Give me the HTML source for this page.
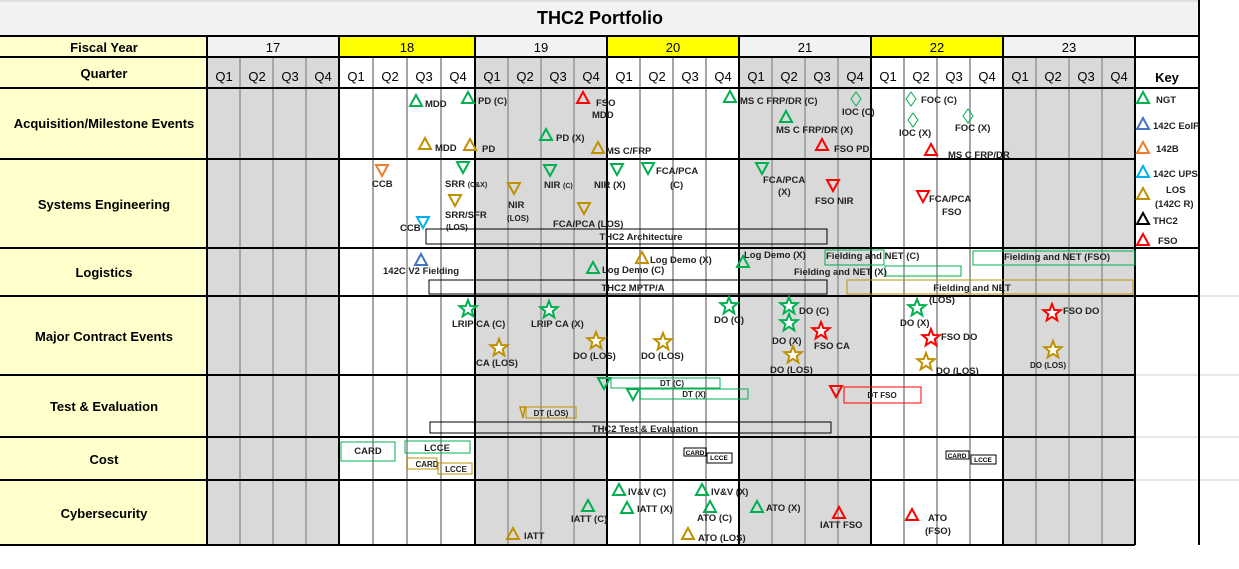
<!DOCTYPE html>
<html><head><meta charset="utf-8"><style>
html,body{margin:0;padding:0;background:#fff;width:1239px;height:569px;overflow:hidden}
svg{display:block;font-family:"Liberation Sans Narrow","Liberation Sans",sans-serif}
.t{font-size:9.5px;font-weight:bold;fill:#222}
.s{font-size:8px;font-weight:bold;fill:#222}
.l{font-size:13px;font-weight:bold;fill:#000}
.q{font-size:13px;fill:#000}
</style></head><body>
<svg width="1239" height="569" viewBox="0 0 1239 569">
<defs>
<path id="tu" d="M0,-6 L6,5 L-6,5Z" fill="none" stroke-width="2"/>
<path id="td" d="M0,6 L6,-5 L-6,-5Z" fill="none" stroke-width="2"/>
<path id="dm" d="M0,-7 L5,0 L0,7 L-5,0Z" fill="none" stroke-width="1"/>
<path id="st" d="M0,-9 L2.3,-3 L8.6,-2.8 L3.7,1.2 L5.3,7.3 L0,3.8 L-5.3,7.3 L-3.7,1.2 L-8.6,-2.8 L-2.3,-3Z" fill="#fff" stroke-width="2"/>
</defs>
<rect x="0" y="0" width="1199" height="36" fill="#f2f2f2"/>
<line x1="0" y1="1" x2="1199" y2="1" stroke="#ccc"/>
<text x="600" y="24" text-anchor="middle" font-size="18" font-weight="bold" font-family="Liberation Sans">THC2 Portfolio</text>
<rect x="0" y="36" width="207" height="509" fill="#ffffcc"/>
<rect x="207" y="36" width="928" height="21" fill="#f2f2f2"/>
<rect x="339" y="36" width="136" height="21" fill="#ffff00"/>
<rect x="607" y="36" width="132" height="21" fill="#ffff00"/>
<rect x="871" y="36" width="132" height="21" fill="#ffff00"/>
<rect x="1135" y="36" width="64" height="21" fill="#fff"/>
<rect x="207" y="57" width="132" height="488" fill="#d9d9d9"/>
<rect x="475" y="57" width="132" height="488" fill="#d9d9d9"/>
<rect x="739" y="57" width="132" height="488" fill="#d9d9d9"/>
<rect x="1003" y="57" width="132" height="488" fill="#d9d9d9"/>
<g stroke="#a6a6a6" stroke-width="2">
<line x1="240" y1="57" x2="240" y2="545"/><line x1="273" y1="57" x2="273" y2="545"/><line x1="306" y1="57" x2="306" y2="545"/>
<line x1="373" y1="57" x2="373" y2="545"/><line x1="407" y1="57" x2="407" y2="545"/><line x1="441" y1="57" x2="441" y2="545"/>
<line x1="508" y1="57" x2="508" y2="545"/><line x1="541" y1="57" x2="541" y2="545"/><line x1="574" y1="57" x2="574" y2="545"/>
<line x1="640" y1="57" x2="640" y2="545"/><line x1="673" y1="57" x2="673" y2="545"/><line x1="706" y1="57" x2="706" y2="545"/>
<line x1="772" y1="57" x2="772" y2="545"/><line x1="805" y1="57" x2="805" y2="545"/><line x1="838" y1="57" x2="838" y2="545"/>
<line x1="904" y1="57" x2="904" y2="545"/><line x1="937" y1="57" x2="937" y2="545"/><line x1="970" y1="57" x2="970" y2="545"/>
<line x1="1036" y1="57" x2="1036" y2="545"/><line x1="1069" y1="57" x2="1069" y2="545"/><line x1="1102" y1="57" x2="1102" y2="545"/>
</g>
<g stroke="#d0d0d0" stroke-width="1">
<line x1="1135" y1="375" x2="1239" y2="375"/><line x1="1135" y1="437" x2="1239" y2="437"/><line x1="1135" y1="480" x2="1239" y2="480"/>
<line x1="1199" y1="296" x2="1239" y2="296"/>
</g>
<g stroke="#000" stroke-width="2">
<line x1="0" y1="36" x2="1199" y2="36"/><line x1="0" y1="57" x2="1199" y2="57"/><line x1="0" y1="88" x2="1199" y2="88"/>
<line x1="0" y1="159" x2="1135" y2="159"/><line x1="0" y1="248" x2="1199" y2="248"/><line x1="0" y1="296" x2="1199" y2="296"/>
<line x1="0" y1="375" x2="1135" y2="375"/><line x1="0" y1="437" x2="1135" y2="437"/><line x1="0" y1="480" x2="1135" y2="480"/>
<line x1="0" y1="545" x2="1135" y2="545"/>
<line x1="207" y1="36" x2="207" y2="545"/><line x1="339" y1="36" x2="339" y2="545"/><line x1="475" y1="36" x2="475" y2="545"/>
<line x1="607" y1="36" x2="607" y2="545"/><line x1="739" y1="36" x2="739" y2="545"/><line x1="871" y1="36" x2="871" y2="545"/>
<line x1="1003" y1="36" x2="1003" y2="545"/><line x1="1135" y1="36" x2="1135" y2="545"/><line x1="1199" y1="0" x2="1199" y2="545"/>
</g>
<text class="l" x="104" y="52" text-anchor="middle" font-size="12">Fiscal Year</text>
<text class="l" x="104" y="78" text-anchor="middle" font-size="12">Quarter</text>
<g class="q" text-anchor="middle">
<text x="273" y="52">17</text><text x="407" y="52">18</text><text x="541" y="52">19</text><text x="673" y="52">20</text><text x="805" y="52">21</text><text x="937" y="52">22</text><text x="1069" y="52">23</text>
</g>
<g class="q" text-anchor="middle">
<text x="224" y="81">Q1</text><text x="257" y="81">Q2</text><text x="290" y="81">Q3</text><text x="323" y="81">Q4</text>
<text x="356" y="81">Q1</text><text x="390" y="81">Q2</text><text x="424" y="81">Q3</text><text x="458" y="81">Q4</text>
<text x="492" y="81">Q1</text><text x="525" y="81">Q2</text><text x="558" y="81">Q3</text><text x="591" y="81">Q4</text>
<text x="624" y="81">Q1</text><text x="657" y="81">Q2</text><text x="690" y="81">Q3</text><text x="723" y="81">Q4</text>
<text x="756" y="81">Q1</text><text x="789" y="81">Q2</text><text x="822" y="81">Q3</text><text x="855" y="81">Q4</text>
<text x="888" y="81">Q1</text><text x="921" y="81">Q2</text><text x="954" y="81">Q3</text><text x="987" y="81">Q4</text>
<text x="1020" y="81">Q1</text><text x="1053" y="81">Q2</text><text x="1086" y="81">Q3</text><text x="1119" y="81">Q4</text>
</g>
<text class="l" x="1167" y="82" text-anchor="middle" font-size="13">Key</text>
<g class="l" text-anchor="middle">
<text x="104" y="128">Acquisition/Milestone Events</text>
<text x="104" y="209">Systems Engineering</text>
<text x="104" y="277">Logistics</text>
<text x="104" y="341">Major Contract Events</text>
<text x="104" y="411">Test &amp; Evaluation</text>
<text x="104" y="464">Cost</text>
<text x="104" y="518">Cybersecurity</text>
</g>

<use href="#tu" x="416" y="101" stroke="#00b050"/><text class="t" x="425" y="107">MDD</text>
<use href="#tu" x="468" y="98" stroke="#00b050"/><text class="t" x="478" y="104">PD (C)</text>
<use href="#tu" x="583" y="98" stroke="#f00"/><text class="t" x="596" y="106">FSO</text><text class="t" x="592" y="118">MDD</text>
<use href="#tu" x="730" y="97" stroke="#00b050"/><text class="t" x="740" y="104">MS C FRP/DR (C)</text>
<use href="#dm" x="856" y="99" stroke="#00b050"/><text class="t" x="842" y="115">IOC  (C)</text>
<use href="#dm" x="911" y="99" stroke="#00b050"/><text class="t" x="921" y="103">FOC (C)</text>
<use href="#dm" x="913" y="120" stroke="#00b050"/><text class="t" x="899" y="136">IOC  (X)</text>
<use href="#dm" x="968" y="116" stroke="#00b050"/><text class="t" x="955" y="131">FOC (X)</text>
<use href="#tu" x="786" y="117" stroke="#00b050"/><text class="t" x="776" y="133">MS C FRP/DR (X)</text>
<use href="#tu" x="425" y="144" stroke="#bf9000"/><text class="t" x="435" y="151">MDD</text>
<use href="#tu" x="470" y="145" stroke="#bf9000"/><text class="t" x="482" y="152">PD</text>
<use href="#tu" x="546" y="135" stroke="#00b050"/><text class="t" x="556" y="141">PD (X)</text>
<use href="#tu" x="598" y="148" stroke="#bf9000"/><text class="t" x="606" y="154">MS C/FRP</text>
<use href="#tu" x="822" y="145" stroke="#f00"/><text class="t" x="834" y="152">FSO PD</text>
<use href="#tu" x="931" y="150" stroke="#f00"/><text class="t" x="948" y="158">MS C FRP/DR</text>

<use href="#td" x="382" y="170" stroke="#ed7d31"/><text class="t" x="372" y="187">CCB</text>
<use href="#td" x="463" y="167" stroke="#00b050"/><text class="t" x="445" y="187">SRR <tspan font-size="7">(C&amp;X)</tspan></text>
<use href="#td" x="514" y="188" stroke="#bf9000"/><text class="t" x="508" y="208">NIR</text><text class="s" x="507" y="221">(LOS)</text>
<use href="#td" x="550" y="170" stroke="#00b050"/><text class="t" x="544" y="188">NIR <tspan font-size="7">(C)</tspan></text>
<use href="#td" x="617" y="169" stroke="#00b050"/><text class="t" x="594" y="188">NIR (X)</text>
<use href="#td" x="648" y="168" stroke="#00b050"/><text class="t" x="656" y="174">FCA/PCA</text><text class="t" x="670" y="188">(C)</text>
<use href="#td" x="455" y="200" stroke="#bf9000"/><text class="t" x="445" y="218">SRR/SFR</text><text class="s" x="446" y="230">(LOS)</text>
<use href="#td" x="584" y="208" stroke="#bf9000"/><text class="t" x="553" y="227">FCA/PCA  (LOS)</text>
<use href="#td" x="423" y="222" stroke="#00b0f0"/><text class="t" x="400" y="231">CCB</text>
<rect x="426" y="229" width="401" height="15" fill="none" stroke="#000"/><text class="t" x="641" y="240" text-anchor="middle">THC2 Architecture</text>
<use href="#td" x="762" y="168" stroke="#00b050"/><text class="t" x="763" y="183">FCA/PCA</text><text class="t" x="778" y="195">(X)</text>
<use href="#td" x="833" y="185" stroke="#f00"/><text class="t" x="815" y="204">FSO NIR</text>
<use href="#td" x="923" y="196" stroke="#f00"/><text class="t" x="929" y="202">FCA/PCA</text><text class="t" x="942" y="215">FSO</text>

<use href="#tu" x="1143" y="98" stroke="#00b050"/><text class="t" x="1156" y="103">NGT</text>
<use href="#tu" x="1143" y="124" stroke="#4472c4"/><text class="t" x="1153" y="129">142C EoIP</text>
<use href="#tu" x="1143" y="148" stroke="#ed7d31"/><text class="t" x="1156" y="152">142B</text>
<use href="#tu" x="1143" y="172" stroke="#00b0f0"/><text class="t" x="1153" y="177">142C UPS</text>
<use href="#tu" x="1143" y="194" stroke="#bf9000"/><text class="t" x="1166" y="193">LOS</text><text class="t" x="1155" y="207">(142C R)</text>
<use href="#tu" x="1143" y="219" stroke="#000"/><text class="t" x="1153" y="224">THC2</text>
<use href="#tu" x="1143" y="240" stroke="#f00"/><text class="t" x="1158" y="244">FSO</text>

<use href="#tu" x="421" y="260" stroke="#4472c4"/><text class="t" x="383" y="274">142C V2 Fielding</text>
<use href="#tu" x="593" y="268" stroke="#00b050"/><text class="t" x="602" y="273">Log Demo (C)</text>
<use href="#tu" x="642" y="258" stroke="#bf9000"/><text class="t" x="650" y="263">Log Demo (X)</text>
<use href="#tu" x="743" y="262" stroke="#00b050"/><text class="t" x="744" y="258">Log Demo (X)</text>
<rect x="825" y="250" width="59" height="15" fill="none" stroke="#00b050"/><text class="t" x="826" y="259">Fielding and NET (C)</text>
<rect x="885" y="266" width="76" height="10" fill="none" stroke="#00b050"/><text class="t" x="794" y="275">Fielding and NET (X)</text>
<rect x="973" y="251" width="162" height="14" fill="none" stroke="#00b050"/><text class="t" x="1057" y="260" text-anchor="middle">Fielding and NET (FSO)</text>
<rect x="429" y="280" width="398" height="14" fill="none" stroke="#000"/><text class="t" x="633" y="291" text-anchor="middle">THC2 MPTP/A</text>
<rect x="847" y="280" width="286" height="14" fill="none" stroke="#bf9000"/><text class="t" x="972" y="291" text-anchor="middle">Fielding and NET</text>

<use href="#st" x="468" y="309" stroke="#00b050"/><text class="t" x="452" y="327">LRIP CA (C)</text>
<use href="#st" x="549" y="310" stroke="#00b050"/><text class="t" x="531" y="327">LRIP CA (X)</text>
<use href="#st" x="729" y="306" stroke="#00b050"/><text class="t" x="714" y="323">DO (C)</text>
<use href="#st" x="499" y="348" stroke="#bf9000"/><text class="t" x="476" y="366">CA (LOS)</text>
<use href="#st" x="596" y="341" stroke="#bf9000"/><text class="t" x="573" y="359">DO (LOS)</text>
<use href="#st" x="663" y="342" stroke="#bf9000"/><text class="t" x="641" y="359">DO (LOS)</text>
<use href="#st" x="789" y="306" stroke="#00b050"/><text class="t" x="799" y="314">DO  (C)</text>
<use href="#st" x="789" y="323" stroke="#00b050"/><text class="t" x="772" y="344">DO  (X)</text>
<use href="#st" x="821" y="331" stroke="#f00"/><text class="t" x="814" y="349">FSO CA</text>
<use href="#st" x="793" y="355" stroke="#bf9000"/><text class="t" x="770" y="373">DO  (LOS)</text>
<use href="#st" x="917" y="308" stroke="#00b050"/><text class="t" x="929" y="303">(LOS)</text><text class="t" x="900" y="326">DO  (X)</text>
<use href="#st" x="931" y="338" stroke="#f00"/><text class="t" x="941" y="340">FSO DO</text>
<use href="#st" x="926" y="362" stroke="#bf9000"/><text class="t" x="936" y="374">DO  (LOS)</text>
<use href="#st" x="1052" y="313" stroke="#f00"/><text class="t" x="1063" y="314">FSO DO</text>
<use href="#st" x="1053" y="350" stroke="#bf9000"/><text class="s" x="1030" y="368">DO  (LOS)</text>

<use href="#td" x="604" y="383" stroke="#00b050"/><rect x="611" y="378" width="109" height="10" fill="none" stroke="#00b050"/><text class="s" x="672" y="386" text-anchor="middle">DT (C)</text>
<use href="#td" x="633" y="394" stroke="#00b050"/><rect x="640" y="389" width="108" height="10" fill="none" stroke="#00b050"/><text class="s" x="694" y="397" text-anchor="middle">DT (X)</text>
<path d="M520,407 L525,407 L523,418Z" fill="none" stroke="#bf9000" stroke-width="1.5"/><rect x="526" y="407" width="50" height="11" fill="none" stroke="#bf9000"/><text class="s" x="551" y="416" text-anchor="middle">DT (LOS)</text>
<rect x="430" y="422" width="401" height="11" fill="none" stroke="#000"/><text class="t" x="645" y="432" text-anchor="middle">THC2 Test &amp; Evaluation</text>
<use href="#td" x="836" y="391" stroke="#f00"/><rect x="844" y="387" width="77" height="16" fill="none" stroke="#f00"/><text class="s" x="882" y="398" text-anchor="middle">DT FSO</text>

<rect x="341" y="442" width="54" height="19" fill="none" stroke="#00b050"/><text class="t" x="368" y="454" text-anchor="middle">CARD</text>
<rect x="405" y="441" width="65" height="12" fill="none" stroke="#00b050"/><text class="t" x="437" y="451" text-anchor="middle">LCCE</text>
<rect x="407" y="458" width="30" height="11" fill="none" stroke="#bf9000"/><text class="s" x="427" y="467" text-anchor="middle">CARD</text>
<rect x="438" y="463" width="34" height="11" fill="none" stroke="#bf9000"/><text class="s" x="456" y="472" text-anchor="middle">LCCE</text>
<rect x="684" y="448" width="22" height="8" fill="none" stroke="#000"/><text x="695" y="455" font-size="6.5" font-weight="bold" text-anchor="middle">CARD</text>
<rect x="707" y="453" width="25" height="10" fill="none" stroke="#000"/><text x="719" y="460" font-size="6.5" font-weight="bold" text-anchor="middle">LCCE</text>
<rect x="946" y="451" width="23" height="8" fill="none" stroke="#000"/><text x="957" y="458" font-size="6.5" font-weight="bold" text-anchor="middle">CARD</text>
<rect x="971" y="455" width="25" height="9" fill="none" stroke="#000"/><text x="983" y="462" font-size="6.5" font-weight="bold" text-anchor="middle">LCCE</text>

<use href="#tu" x="619" y="490" stroke="#00b050"/><text class="t" x="628" y="495">IV&amp;V (C)</text>
<use href="#tu" x="702" y="490" stroke="#00b050"/><text class="t" x="711" y="495">IV&amp;V (X)</text>
<use href="#tu" x="627" y="508" stroke="#00b050"/><text class="t" x="637" y="512">IATT (X)</text>
<use href="#tu" x="588" y="506" stroke="#00b050"/><text class="t" x="571" y="522">IATT (C)</text>
<use href="#tu" x="710" y="507" stroke="#00b050"/><text class="t" x="697" y="521">ATO (C)</text>
<use href="#tu" x="757" y="507" stroke="#00b050"/><text class="t" x="766" y="511">ATO (X)</text>
<use href="#tu" x="513" y="534" stroke="#bf9000"/><text class="t" x="524" y="539">IATT</text>
<use href="#tu" x="688" y="534" stroke="#bf9000"/><text class="t" x="698" y="541">ATO (LOS)</text>
<use href="#tu" x="839" y="513" stroke="#f00"/><text class="t" x="820" y="528">IATT FSO</text>
<use href="#tu" x="912" y="515" stroke="#f00"/><text class="t" x="928" y="521">ATO</text><text class="t" x="925" y="534">(FSO)</text>
</svg>
</body></html>
